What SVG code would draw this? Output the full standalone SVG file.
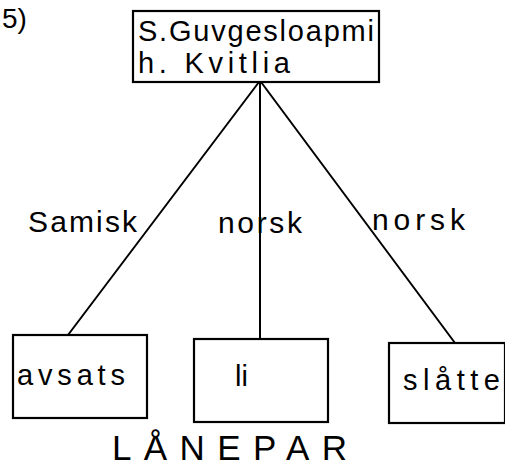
<svg xmlns="http://www.w3.org/2000/svg" width="505" height="471" viewBox="0 0 505 471">
  <style>
    .box { fill: none; stroke: #000; stroke-width: 2.2; }
    .edge { fill: none; stroke: #000; stroke-width: 2; stroke-linecap: round; }
    text { font-family: "Liberation Sans", Arial, sans-serif; fill: #000; }
    .lbl { font-size: 30px; }
    .node { font-size: 29px; }
  </style>
  <rect width="505" height="471" fill="#fff"/>

  <text x="2" y="28" font-size="28">5)</text>

  <g id="connectors">
    <line class="edge" x1="259" y1="82" x2="68" y2="335"/>
    <line class="edge" x1="260" y1="82" x2="260" y2="339"/>
    <line class="edge" x1="261" y1="82" x2="455" y2="343"/>
    <text class="lbl" x="28" y="232" textLength="109" lengthAdjust="spacing">Samisk</text>
    <text class="lbl" x="218" y="233" textLength="84" lengthAdjust="spacing">norsk</text>
    <text class="lbl" x="372" y="230" textLength="93" lengthAdjust="spacing">norsk</text>
  </g>

  <g id="source">
    <rect class="box" x="133" y="11" width="246" height="71"/>
    <text class="node" x="138" y="41" textLength="236" lengthAdjust="spacing">S.Guvgesloapmi</text>
    <text class="node" x="138" y="73" textLength="152" lengthAdjust="spacing">h. Kvitlia</text>
  </g>

  <g id="avsats">
    <rect class="box" x="13" y="335" width="134" height="83"/>
    <text class="node" x="17" y="385" textLength="108" lengthAdjust="spacing">avsats</text>
  </g>

  <g id="li">
    <rect class="box" x="194" y="339" width="134" height="83"/>
    <text class="node" x="235" y="386">li</text>
  </g>

  <g id="slatte">
    <rect class="box" x="389" y="343" width="116" height="80"/>
    <text class="node" x="403" y="390" textLength="97" lengthAdjust="spacing">slåtte</text>
  </g>

  <text x="112" y="460" font-size="35" textLength="235" lengthAdjust="spacing">LÅNEPAR</text>
</svg>
